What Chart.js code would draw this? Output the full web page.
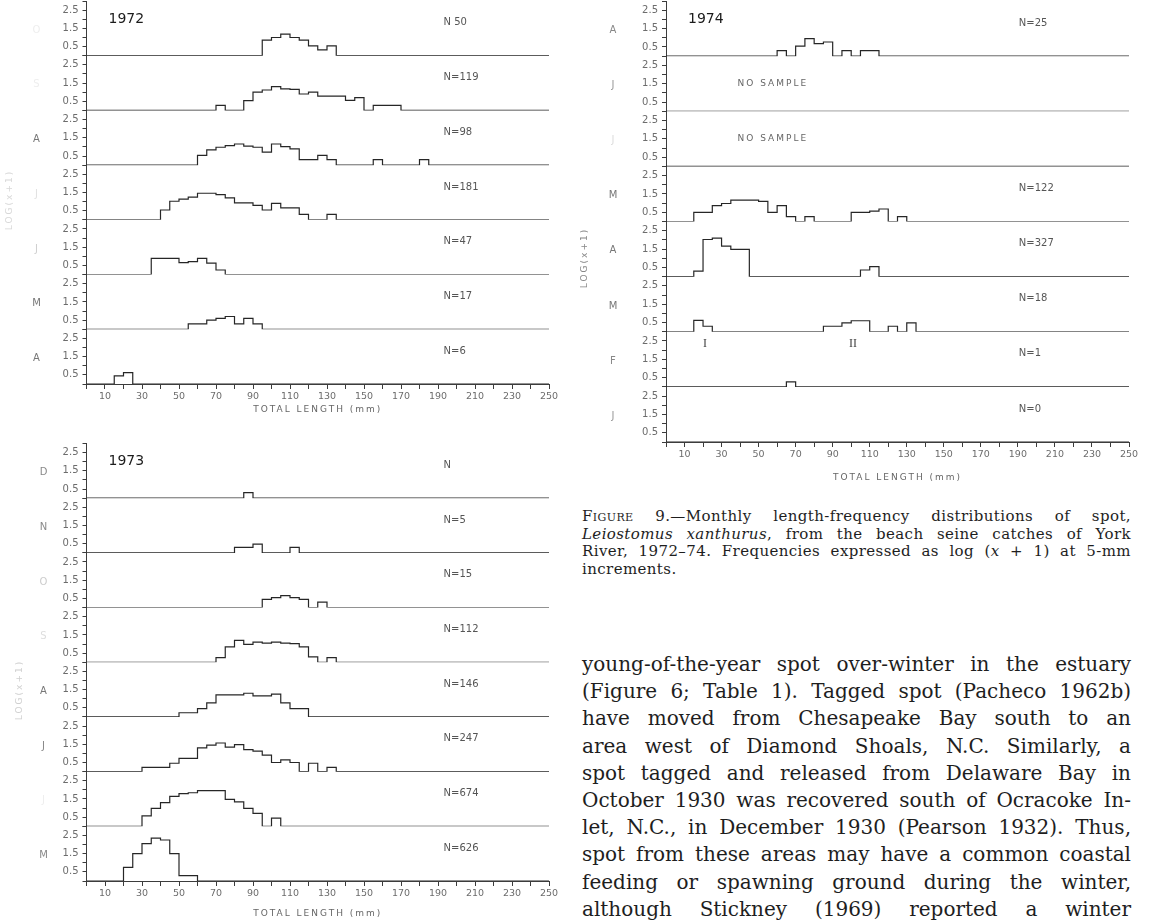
<!DOCTYPE html>
<html>
<head>
<meta charset="utf-8">
<title>Spot length-frequency, York River 1972-74</title>
<script src="https://cdn.jsdelivr.net/npm/chart.js@4.4.1/dist/chart.umd.min.js"></script>
<style>
  html, body { margin: 0; padding: 0; background: #fff; }
  body { position: relative; width: 1149px; height: 921px; overflow: hidden; }
  canvas { position: absolute; }
  #c1972 { left: 0; top: 0; }
  #c1973 { left: 0; top: 440px; }
  #c1974 { left: 560px; top: 0; }
  .txt { position: absolute; left: 582px; width: 549px; color: #1e1e1e; font-family: "DejaVu Serif", serif; }
  .txt div { white-space: nowrap; text-align: justify; text-align-last: justify; }
  .txt div.last { text-align-last: left; }
  #caption { top: 508px; font-size: 15px; line-height: 17.5px; letter-spacing: 0.4px; }
  #body { top: 651px; font-size: 20px; line-height: 27.2px; }
  .sc { font-variant: small-caps; }
</style>
</head>
<body>
<canvas id="c1972" width="560" height="424"></canvas>
<canvas id="c1973" width="560" height="481"></canvas>
<canvas id="c1974" width="589" height="482"></canvas>

<div class="txt" id="caption">
  <div><span class="sc">Figure</span> 9.—Monthly length-frequency distributions of spot,</div>
  <div><i>Leiostomus xanthurus</i>, from the beach seine catches of York</div>
  <div>River, 1972–74. Frequencies expressed as log (<i>x</i> + 1) at 5-mm</div>
  <div class="last">increments.</div>
</div>

<div class="txt" id="body">
  <div>young-of-the-year spot over-winter in the estuary</div>
  <div>(Figure 6; Table 1). Tagged spot (Pacheco 1962b)</div>
  <div>have moved from Chesapeake Bay south to an</div>
  <div>area west of Diamond Shoals, N.C. Similarly, a</div>
  <div>spot tagged and released from Delaware Bay in</div>
  <div>October 1930 was recovered south of Ocracoke In-</div>
  <div>let, N.C., in December 1930 (Pearson 1932). Thus,</div>
  <div>spot from these areas may have a common coastal</div>
  <div>feeding or spawning ground during the winter,</div>
  <div>although Stickney (1969) reported a winter</div>
</div>

<script>
// log(x+1) per 5-mm bin; each row = first bin (mm) + values, top row first

// 1972: Oct .. Apr
const months1972 = ['O', 'S', 'A', 'J', 'J', 'M', 'A'];
const counts1972 = ['N 50', 'N=119', 'N=98', 'N=181', 'N=47', 'N=17', 'N=6'];
const starts1972 = [95, 70, 60, 40, 35, 55, 15];
const freq1972 = [
  [0.86, 1.0, 1.18, 1.0, 0.86, 0.54, 0.32, 0.54],
  [0.28, 0, 0, 0.54, 1.0, 1.12, 1.3, 1.18, 1.15, 0.9, 1.0, 0.78, 0.78, 0.78, 0.55, 0.7, 0, 0.28, 0.28, 0.28],
  [0.54, 0.84, 0.98, 1.07, 1.16, 1.04, 0.98, 0.71, 1.16, 1.02, 0.89, 0.3, 0.3, 0.54, 0.3, 0, 0, 0, 0, 0.3, 0, 0, 0, 0, 0.3],
  [0.54, 1.02, 1.14, 1.25, 1.46, 1.46, 1.38, 1.2, 0.93, 0.93, 0.79, 0.54, 0.9, 0.66, 0.66, 0.3, 0, 0, 0.3],
  [0.89, 0.89, 0.89, 0.66, 0.71, 0.89, 0.63, 0.25],
  [0.3, 0.3, 0.5, 0.6, 0.7, 0.3, 0.6, 0.3],
  [0.45, 0.62]
];

// 1973: Dec .. May
const months1973 = ['D', 'N', 'O', 'S', 'A', 'J', 'J', 'M'];
const counts1973 = ['N', 'N=5', 'N=15', 'N=112', 'N=146', 'N=247', 'N=674', 'N=626'];
const starts1973 = [85, 80, 95, 70, 50, 30, 30, 20];
const freq1973 = [
  [0.3],
  [0.3, 0.3, 0.48, 0, 0, 0, 0.3],
  [0.45, 0.55, 0.65, 0.55, 0.45, 0, 0.3],
  [0.25, 0.84, 1.2, 0.98, 1.1, 1.05, 1.1, 1.05, 1.02, 0.84, 0.3, 0, 0.25],
  [0.23, 0.23, 0.46, 0.77, 1.21, 1.21, 1.21, 1.3, 1.16, 1.16, 1.25, 0.77, 0.46, 0.46],
  [0.23, 0.23, 0.23, 0.46, 0.73, 0.73, 1.3, 1.45, 1.57, 1.34, 1.48, 1.21, 1.12, 0.91, 0.5, 0.64, 0.5, 0, 0.46, 0, 0.23],
  [0.57, 0.98, 1.3, 1.64, 1.79, 1.84, 1.96, 1.96, 1.96, 1.48, 1.34, 0.98, 0.71, 0, 0.45],
  [0.75, 1.5, 2.05, 2.35, 2.25, 1.5, 0.3, 0.3]
];

// 1974: Aug .. Jan
const months1974 = ['A', 'J', 'J', 'M', 'A', 'M', 'F', 'J'];
const counts1974 = ['N=25', '', '', 'N=122', 'N=327', 'N=18', 'N=1', 'N=0'];
const starts1974 = [60, 0, 0, 15, 15, 15, 65, 0];
const freq1974 = [
  [0.3, 0, 0.54, 0.95, 0.68, 0.77, 0, 0.3, 0, 0.3, 0.3],
  [],
  [],
  [0.5, 0.5, 0.86, 0.98, 1.16, 1.16, 1.16, 1.1, 0.5, 0.86, 0.27, 0, 0.27, 0, 0, 0, 0, 0.5, 0.5, 0.57, 0.68, 0, 0.27],
  [0.3, 2.02, 2.09, 1.66, 1.48, 1.48, 0, 0, 0, 0, 0, 0, 0, 0, 0, 0, 0, 0, 0.36, 0.54],
  [0.62, 0.3, 0, 0, 0, 0, 0, 0, 0, 0, 0, 0, 0, 0, 0.3, 0.3, 0.48, 0.6, 0.6, 0, 0, 0.3, 0, 0.48],
  [0.27],
  []
];

const axisColor = '#3c3c3c';
const lineColor = '#262626';
const tickColor = '#6c6c6c';

// step outline over 0..250 mm, zero outside the sampled bins
function stepSeries(start, vals) {
  const pts = [];
  for (let x = 0; x < 250; x += 5) {
    const i = (x - start) / 5;
    pts.push({x: x, y: (i >= 0 && i < vals.length) ? vals[i] : 0});
  }
  pts.push({x: 250, y: 0});
  return pts;
}

const panelText = {
  id: 'panelText',
  afterDraw(chart, args, o) {
    const ctx = chart.ctx;
    const area = chart.chartArea;
    const xs = chart.scales.x;
    ctx.save();
    ctx.textBaseline = 'middle';

    ctx.fillStyle = '#1c1c1c';
    ctx.font = '14px "DejaVu Sans"';
    ctx.textAlign = 'left';
    ctx.fillText(o.year, area.left + 22, area.top + 18);

    ctx.font = '10px "DejaVu Sans"';
    o.months.forEach((m, i) => {
      const ys = chart.scales['r' + i];
      ctx.fillStyle = o.monthColors[i];
      ctx.textAlign = 'center';
      ctx.fillText(m, area.left + o.monthDx, ys.getPixelForValue(1.4));
      if (o.counts[i]) {
        ctx.fillStyle = '#555';
        ctx.textAlign = 'left';
        ctx.fillText(o.counts[i], xs.getPixelForValue(o.countAt), ys.getPixelForValue(1.8));
      }
    });

    ctx.letterSpacing = '2px';
    ctx.font = '9px "DejaVu Sans"';
    ctx.fillStyle = '#666';
    (o.notes || []).forEach(n => {
      ctx.textAlign = 'left';
      ctx.fillText(n.text, xs.getPixelForValue(n.at), chart.scales['r' + n.row].getPixelForValue(1.5));
    });

    ctx.textAlign = 'center';
    ctx.fillText('TOTAL LENGTH (mm)', xs.getPixelForValue(125), area.bottom + o.titleDy);

    ctx.save();
    ctx.translate(o.logX, o.logY);
    ctx.rotate(-Math.PI / 2);
    ctx.fillStyle = o.logColor;
    ctx.fillText('LOG(x+1)', 0, 0);
    ctx.restore();

    ctx.letterSpacing = '0px';
    ctx.font = '12px "Liberation Serif"';
    ctx.fillStyle = '#444';
    (o.marks || []).forEach(mk => {
      ctx.fillText(mk.text, xs.getPixelForValue(mk.at), chart.scales['r' + mk.row].getPixelForValue(0) + 12);
    });
    ctx.restore();
  }
};
Chart.register(panelText);

function yScale(i, n) {
  return {
    type: 'linear', position: 'left', stack: 'rows', stackWeight: 1, weight: n - i,
    min: 0, max: 3,
    border: {display: true, color: axisColor, width: 1},
    grid: {drawOnChartArea: false, drawTicks: true, tickLength: 4, color: axisColor},
    ticks: {
      stepSize: 0.5, autoSkip: false, maxTicksLimit: 100, padding: 4,
      color: tickColor, font: {size: 10, family: 'DejaVu Sans'},
      callback: v => (v === 0.5 || v === 1.5 || v === 2.5) ? v.toFixed(1) : ''
    },
    afterFit: s => { s.width = 32; s.paddingTop = 0; s.paddingBottom = 0; }
  };
}

function drawYear(id, months, counts, starts, freqs, pad, text) {
  const n = months.length;
  const scales = {
    x: {
      type: 'linear', position: 'bottom', min: 0, max: 250,
      border: {display: true, color: axisColor, width: 1},
      grid: {drawOnChartArea: false, tickLength: 5, color: axisColor},
      ticks: {
        stepSize: 10, autoSkip: false, maxTicksLimit: 100, maxRotation: 0, padding: 2,
        color: tickColor, font: {size: 9.5, family: 'DejaVu Sans'},
        callback: v => (v % 20 === 10) ? String(v) : ''
      },
      afterFit: s => { s.height = 40; s.paddingLeft = 0; s.paddingRight = 0; }
    }
  };
  const datasets = [];
  for (let i = 0; i < n; i++) {
    scales['r' + i] = yScale(i, n);
    datasets.push({
      label: months[i],
      data: stepSeries(starts[i], freqs[i]),
      xAxisID: 'x', yAxisID: 'r' + i,
      stepped: true, borderColor: lineColor, borderWidth: 1.2,
      pointRadius: 0, fill: false
    });
  }
  text.months = months;
  text.counts = counts;
  return new Chart(document.getElementById(id), {
    type: 'line',
    data: {datasets},
    options: {
      responsive: false,
      animation: false,
      layout: {padding: pad},
      scales: scales,
      plugins: {legend: {display: false}, tooltip: {enabled: false}, panelText: text}
    }
  });
}

drawYear('c1972', months1972, counts1972, starts1972, freq1972,
  {left: 54.5, right: 11, top: 1, bottom: 0},
  {year: '1972', monthDx: -50, countAt: 193, titleDy: 26, logX: 10, logY: 200, logColor: '#d8d8d8',
   monthColors: ['#eee', '#eee', '#777', '#e2e2e2', '#cfcfcf', '#777', '#777']});

drawYear('c1973', months1973, counts1973, starts1973, freq1973,
  {left: 54.5, right: 11, top: 3.5, bottom: 0},
  {year: '1973', monthDx: -43, countAt: 193, titleDy: 33, logX: 20, logY: 250, logColor: '#d0d0d0',
   monthColors: ['#888', '#888', '#ccc', '#ddd', '#777', '#888', '#eee', '#888']});

drawYear('c1974', months1974, counts1974, starts1974, freq1974,
  {left: 74, right: 20, top: 1, bottom: 0},
  {year: '1974', monthDx: -53, countAt: 190.5, titleDy: 36, logX: 25, logY: 258, logColor: '#888',
   monthColors: ['#888', '#999', '#ddd', '#777', '#777', '#777', '#888', '#999'],
   notes: [{row: 1, text: 'NO SAMPLE', at: 38.6}, {row: 2, text: 'NO SAMPLE', at: 38.6}],
   marks: [{row: 5, text: 'I', at: 21}, {row: 5, text: 'II', at: 101}]});
</script>
</body>
</html>
